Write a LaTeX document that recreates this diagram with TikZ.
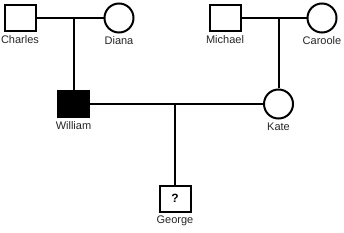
\documentclass[tikz,border=0pt]{standalone}
\usepackage{fontspec}
\setmainfont{Liberation Sans}
\usepackage{tikz}
\usetikzlibrary{positioning}
\tikzset{
    male/.style={rectangle, minimum width=31pt, minimum height=26pt, inner sep=0pt, draw=black, line width=2pt, fill=white},
    female/.style={circle, minimum size=29pt, inner sep=0pt, draw=black, line width=2pt, fill=white},
    affected/.style={fill=black},
    tag/.style={label={[label distance=-0.5pt, font=\fontsize{11}{13}\selectfont, text=black!85]below:#1}},
    link/.style={line width=2pt}
}
\begin{document}
\begin{tikzpicture}[x=1pt, y=-1pt]
    \useasboundingbox (0,0) rectangle (344,232);
    \node (charles) [male, tag=Charles] at (20,18) {};
    \node (diana) [female, tag=Diana] at (119,18) {};
    \node (michael) [male, tag=Michael] at (225,18) {};
    \node (caroole) [female, tag=Caroole] at (322,18) {};
    \node (william) [male, affected, tag=William] at (73.5,104) {};
    \node (kate) [female, tag=Kate] at (278.5,104) {};
    \node (george) [male, tag=George] at (175,198.5) {\fontsize{12}{14}\selectfont\bfseries ?};

    \coordinate (cd) at (william |- charles);
    \coordinate (mc) at (kate |- michael);
    \coordinate (wk) at (george |- william);

    \draw [link] (charles) -- (diana);
    \draw [link] (michael) -- (caroole);
    \draw [link] (william) -- (kate);
    \draw [link] (cd) -- (william);
    \draw [link] (mc) -- (kate);
    \draw [link] (wk) -- (george);
\end{tikzpicture}
\end{document}
